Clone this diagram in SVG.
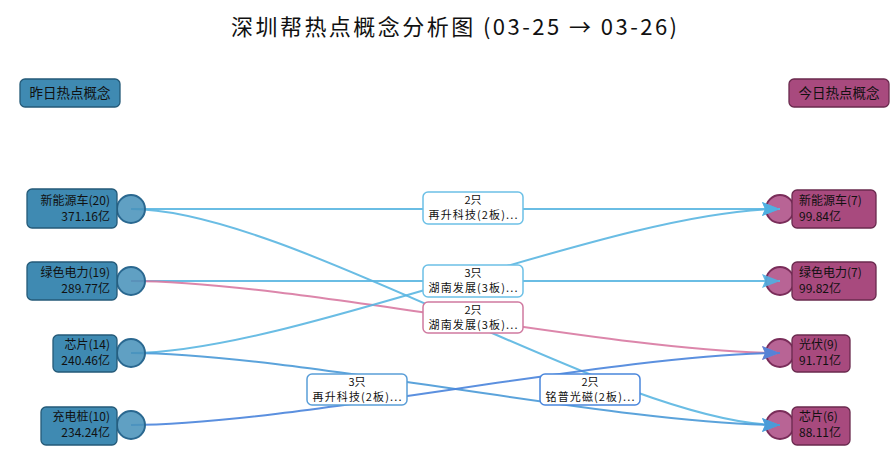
<svg xmlns="http://www.w3.org/2000/svg" width="894" height="465" viewBox="0 0 894 465">
<defs>
<style>
text{font-family:"Noto Sans CJK SC","Liberation Sans",sans-serif;fill:#111}
.title{font-size:22px;text-anchor:middle}
.hdr{font-size:13.5px;text-anchor:middle}
.lbox{fill:#3f8ab2;stroke:#245a78;stroke-width:1.3}
.rbox{fill:#a84a7e;stroke:#6a2a4e;stroke-width:1.3}
.lcir{fill:#4a93bb;fill-opacity:0.88;stroke:#2a6890;stroke-width:2}
.rcir{fill:#b0538a;fill-opacity:0.9;stroke:#7a2d5a;stroke-width:2}
.nt{font-size:12px}
.ltxt{text-anchor:end}
.e{fill:none;stroke-width:2;opacity:0.9}
.lb{fill:#fff;stroke-width:1.5}
.lt{font-size:11px;text-anchor:middle}
</style>
<marker id="aL" markerUnits="userSpaceOnUse" markerWidth="20" markerHeight="16" refX="18" refY="8" orient="auto"><path d="M0,1 L18,8 L0,15 L3,8 Z" fill="#4fb0e2"/></marker>
<marker id="aM" markerUnits="userSpaceOnUse" markerWidth="20" markerHeight="16" refX="18" refY="8" orient="auto"><path d="M0,1 L18,8 L0,15 L3,8 Z" fill="#4a9ad8"/></marker>
<marker id="aR" markerUnits="userSpaceOnUse" markerWidth="20" markerHeight="16" refX="18" refY="8" orient="auto"><path d="M0,1 L18,8 L0,15 L3,8 Z" fill="#4a84dc"/></marker>
<marker id="aP" markerUnits="userSpaceOnUse" markerWidth="20" markerHeight="16" refX="18" refY="8" orient="auto"><path d="M0,1 L18,8 L0,15 L3,8 Z" fill="#d97aa2"/></marker>
</defs>
<rect width="894" height="465" fill="#fff"/>
<text class="title" x="454" y="35" textLength="446" lengthAdjust="spacing">深圳帮热点概念分析图 (03-25 → 03-26)</text>

<g id="header-left"><rect class="lbox" x="20" y="79" width="100" height="28" rx="5"/><text class="hdr" x="70" y="98">昨日热点概念</text></g>
<g id="header-right"><rect class="rbox" x="789" y="79" width="100" height="28" rx="5"/><text class="hdr" x="839" y="98">今日热点概念</text></g>

<g id="node-r-xnyc"><circle class="rcir" cx="780" cy="209" r="14"/><rect class="rbox" x="792" y="190" width="84" height="38" rx="5"/><text class="nt" x="799" y="205">新能源车(7)</text><text class="nt" x="799" y="221">99.84亿</text></g>
<g id="node-r-lsdl"><circle class="rcir" cx="780" cy="281" r="14"/><rect class="rbox" x="792" y="262" width="84" height="38" rx="5"/><text class="nt" x="799" y="277">绿色电力(7)</text><text class="nt" x="799" y="293">99.82亿</text></g>
<g id="node-r-gf"><circle class="rcir" cx="780" cy="353" r="14"/><rect class="rbox" x="792" y="335" width="58" height="37" rx="5"/><text class="nt" x="799" y="349">光伏(9)</text><text class="nt" x="799" y="365">91.71亿</text></g>
<g id="node-r-xp"><circle class="rcir" cx="780" cy="425" r="14"/><rect class="rbox" x="792" y="407" width="58" height="38" rx="5"/><text class="nt" x="799" y="421">芯片(6)</text><text class="nt" x="799" y="437">88.11亿</text></g>

<g id="connectors">
<path class="e" stroke="#5ab6e2" d="M131,209 L780,209" marker-end="url(#aL)"/>
<path class="e" stroke="#5ab6e2" d="M131,209 C291,209 620,425 780,425" marker-end="url(#aL)"/>
<path class="e" stroke="#5ab6e2" d="M131,281 L780,281" marker-end="url(#aL)"/>
<path class="e" stroke="#d97aa2" d="M131,281 C291,281 620,353 780,353" marker-end="url(#aP)"/>
<path class="e" stroke="#5ab6e2" d="M131,353 C291,353 620,209 780,209" marker-end="url(#aL)"/>
<path class="e" stroke="#4a9ad8" d="M131,353 C291,353 620,425 780,425" marker-end="url(#aM)"/>
<path class="e" stroke="#4a84dc" d="M131,425 C291,425 620,353 780,353" marker-end="url(#aR)"/>
</g>

<g id="edge-labels">
<g id="label-1"><rect class="lb" stroke="#6cc0e6" x="423" y="192" width="100" height="32" rx="5"/><text class="lt" x="473" y="204">2只</text><text class="lt" x="473" y="219" textLength="89" lengthAdjust="spacing">再升科技(2板)...</text></g>
<g id="label-2"><rect class="lb" stroke="#6cc0e6" x="423" y="265" width="100" height="32" rx="5"/><text class="lt" x="473" y="277">3只</text><text class="lt" x="473" y="292" textLength="89" lengthAdjust="spacing">湖南发展(3板)...</text></g>
<g id="label-3"><rect class="lb" stroke="#d07aa0" x="423" y="302" width="100" height="31" rx="5"/><text class="lt" x="473" y="314">2只</text><text class="lt" x="473" y="329" textLength="89" lengthAdjust="spacing">湖南发展(3板)...</text></g>
<g id="label-4"><rect class="lb" stroke="#5a9ed8" x="307" y="374" width="100" height="31" rx="5"/><text class="lt" x="357" y="386">3只</text><text class="lt" x="357" y="401" textLength="89" lengthAdjust="spacing">再升科技(2板)...</text></g>
<g id="label-5"><rect class="lb" stroke="#4a86dc" x="540" y="374" width="100" height="31" rx="5"/><text class="lt" x="590" y="386">2只</text><text class="lt" x="590" y="401" textLength="89" lengthAdjust="spacing">铭普光磁(2板)...</text></g>
</g>

<g id="node-l-xnyc"><circle class="lcir" cx="131" cy="209" r="14"/><rect class="lbox" x="27" y="189" width="90" height="39" rx="5"/><text class="nt ltxt" x="110" y="205">新能源车(20)</text><text class="nt ltxt" x="110" y="221">371.16亿</text></g>
<g id="node-l-lsdl"><circle class="lcir" cx="131" cy="281" r="14"/><rect class="lbox" x="27" y="262" width="90" height="38" rx="5"/><text class="nt ltxt" x="110" y="277">绿色电力(19)</text><text class="nt ltxt" x="110" y="293">289.77亿</text></g>
<g id="node-l-xp"><circle class="lcir" cx="131" cy="353" r="14"/><rect class="lbox" x="53" y="335" width="64" height="37" rx="5"/><text class="nt ltxt" x="110" y="349">芯片(14)</text><text class="nt ltxt" x="110" y="365">240.46亿</text></g>
<g id="node-l-cdz"><circle class="lcir" cx="131" cy="425" r="14"/><rect class="lbox" x="41" y="407" width="76" height="38" rx="5"/><text class="nt ltxt" x="110" y="421">充电桩(10)</text><text class="nt ltxt" x="110" y="437">234.24亿</text></g>
</svg>
